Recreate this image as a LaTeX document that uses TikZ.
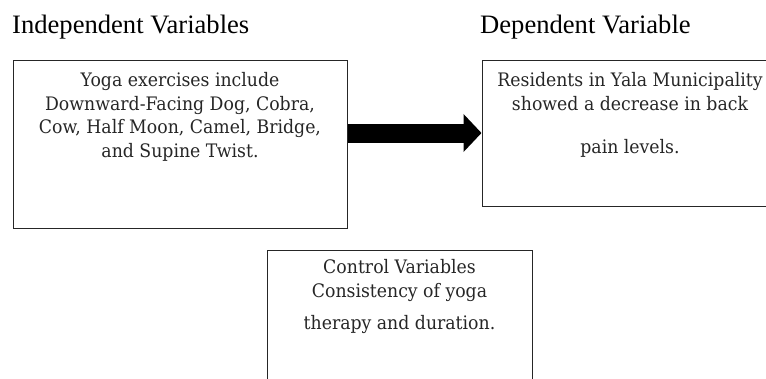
\documentclass[tikz,border=0pt]{standalone}
\usepackage{fontspec}
\setmainfont{Liberation Serif}
\newfontfamily\boxfont[FakeStretch=0.93]{DejaVu Serif}

\begin{document}
\begin{tikzpicture}[x=1pt,y=-1pt]
        \usetikzlibrary{positioning,arrows.meta}
        \tikzset{varbox/.style={draw=black!85, line width=1pt, inner sep=0pt},
                 vartext/.style={align=center, inner sep=0pt, text=black!85,
                     font=\boxfont\fontsize{18.6}{23.7}\selectfont},
                 vartitle/.style={anchor=base west, inner sep=0pt,
                     font=\fontsize{26.6}{30}\selectfont}}
        \path[use as bounding box] (0,0) rectangle (766,378);
        \clip (0,0) rectangle (766,378);
        %\draw[step=50,black!20,thin] (0,0) grid (766,378);

        \node[vartitle] (indep) at (12,33) {Independent Variables};
        \node[vartitle] (dep) at (480,33) {Dependent Variable};

        \node[varbox, minimum width=334pt, minimum height=168pt] (ivbox) at (180,144) {};
        \node[varbox, minimum width=296pt, minimum height=146pt] (dvbox) at (630,133) {};
        \node[varbox, minimum width=265pt, minimum height=160pt] (cvbox) at (399.5,330) {};

        \node[vartext, below=12.5pt of ivbox.north] (ivtext)
            {Yoga exercises include\\Downward-Facing Dog, Cobra,\\Cow, Half Moon, Camel, Bridge,\\and Supine Twist.};
        \node[vartext, below=12.5pt of dvbox.north] (dvtext)
            {Residents in Yala Municipality\\showed a decrease in back\\[19.3pt]pain levels.};
        \node[vartext, below=10.1pt of cvbox.north] (cvtext)
            {Control Variables\\Consistency of yoga\\[8pt]therapy and duration.};

        \draw[line width=19pt, -{Triangle[length=18pt,width=37pt]}]
            (ivbox.east |- dvbox.west) -- (dvbox.west);

        %\draw[red] (ivbox.east) -- (dvbox.west);
\end{tikzpicture}
\end{document}
